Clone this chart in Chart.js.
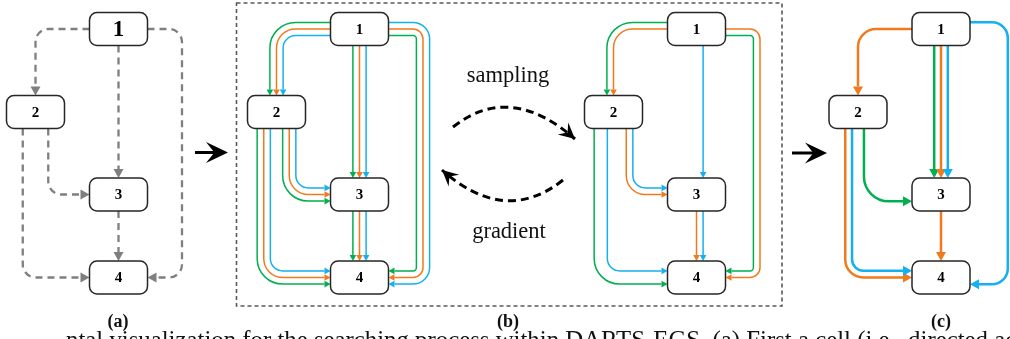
<!DOCTYPE html>
<html>
<head>
<meta charset="utf-8">
<script src="https://cdn.jsdelivr.net/npm/chart.js@4/dist/chart.umd.min.js"></script>
<style>
  html, body { margin: 0; padding: 0; background: #fff; overflow: hidden; }
</style>
</head>
<body>
<canvas id="diagram" width="1010" height="339"></canvas>
<script>
// ノード配置（各図で共通）
const nodeLabels = ["1", "2", "3", "4"];
const nodeDx = [0, -83, 0, 0];
const nodeY = [29, 112, 194.5, 277.5];

// 図の中心x: (a), (b)左, (b)右, (c)
const diagramX = [118.5, 359.5, 696.5, 941];
const loopGap = [34.5, 34.5, 34.5, 31];

// エッジ: 1-2, 1-3, 1-4, 2-3, 2-4, 3-4
const edgeList = [[0, 1], [0, 2], [0, 3], [1, 2], [1, 3], [2, 3]];
// g=green, o=orange, b=blue, k=gray(dashed)
const edgesA = ["k", "k", "k", "k", "k", "k"];
const edgesB1 = ["gob", "gob", "gob", "gob", "gob", "gob"];
const edgesB2 = ["go", "b", "go", "ob", "gb", "ob"];
const edgesC = ["o", "gob", "b", "g", "ob", "o"];
const diagramEdges = [edgesA, edgesB1, edgesB2, edgesC];

// テキスト
const panelLabels = ["(a)", "(b)", "(c)"];
const panelLabelX = [118, 508, 941];
const loopTexts = ["sampling", "gradient"];
const loopTextX = [508, 509];
const loopTextY = [76, 232];
const captionText = "ntal visualization for the searching process within DARTS-EGS. (a) First a cell (i.e., directed acyclic graph)";

// 矢印（曲線・パネル間）
const topArc = [[453, 127], [510, 82], [575, 139]];
const bottomArc = [[563, 180], [505, 226], [442, 170]];
const bigArrows = [[195, 228, 152.5], [792, 827, 153]];
const frameB = [236.5, 782, 3, 306];

const colorMap = { g: "#00b050", o: "#f07b1e", b: "#14b0f0", k: "#7f7f7f" };
const laneMap = { g: -1, o: 0, b: 1, k: 0 };
const styles = [
  { width: 2.3, dash: [7, 5], head: [9, 5], gap: 0, r: 13, loopR: 13 },
  { width: 1.5, dash: [], head: [6, 3.3], gap: 6.6, r: 19, loopR: 10 },
  { width: 1.5, dash: [], head: [6, 3.3], gap: 6.6, r: 19, loopR: 10 },
  { width: 2.5, dash: [], head: [9, 5], gap: 6.8, r: 18, loopR: 9 },
];
const nodeW = 58;
const nodeH = 33;

// エッジの中心線（データ座標）
function route(d, e) {
  const nx = (i) => diagramX[d] + nodeDx[i];
  const hw = nodeW / 2, hh = nodeH / 2;
  if (e === 0) return [[nx(0) - hw, nodeY[0]], [nx(1), nodeY[0]], [nx(1), nodeY[1] - hh]];
  if (e === 1) return [[nx(0), nodeY[0] + hh], [nx(2), nodeY[2] - hh]];
  if (e === 2) {
    const lx = nx(0) + hw + loopGap[d];
    return [[nx(0) + hw, nodeY[0]], [lx, nodeY[0]], [lx, nodeY[3]], [nx(3) + hw, nodeY[3]]];
  }
  if (e === 3) {
    const x3 = nx(1) + 12.75;
    return [[x3, nodeY[1] + hh], [x3, nodeY[2]], [nx(2) - hw, nodeY[2]]];
  }
  if (e === 4) {
    const x4 = nx(1) - 12.75;
    return [[x4, nodeY[1] + hh], [x4, nodeY[3]], [nx(3) - hw, nodeY[3]]];
  }
  return [[nx(2), nodeY[2] + hh], [nx(3), nodeY[3] - hh]];
}

// オフセット付きの角丸パスを描く
function drawEdge(ctx, pts, off, R, st, color) {
  const n = pts.length;
  const dirs = [];
  for (let i = 0; i < n - 1; i++) {
    const dx = pts[i + 1][0] - pts[i][0];
    const dy = pts[i + 1][1] - pts[i][1];
    const L = Math.hypot(dx, dy);
    dirs.push([dx / L, dy / L]);
  }
  const p = pts.map((q, i) => {
    let ox = 0, oy = 0;
    if (i > 0) { ox += dirs[i - 1][1]; oy -= dirs[i - 1][0]; }
    if (i < n - 1) { ox += dirs[i][1]; oy -= dirs[i][0]; }
    return [q[0] + off * ox, q[1] + off * oy];
  });
  const last = dirs[n - 2];
  const tip = p[n - 1];
  const base = [tip[0] - last[0] * st.head[0], tip[1] - last[1] * st.head[0]];

  ctx.strokeStyle = color;
  ctx.fillStyle = color;
  ctx.lineWidth = st.width;
  ctx.setLineDash(st.dash);
  ctx.beginPath();
  ctx.moveTo(p[0][0], p[0][1]);
  for (let i = 1; i < n - 1; i++) {
    const cr = dirs[i - 1][0] * dirs[i][1] - dirs[i - 1][1] * dirs[i][0];
    const r = R + off * cr;
    const nxt = i + 1 === n - 1 ? base : p[i + 1];
    ctx.arcTo(p[i][0], p[i][1], nxt[0], nxt[1], r);
  }
  ctx.lineTo(base[0], base[1]);
  ctx.stroke();
  ctx.setLineDash([]);

  const hw = st.head[1];
  ctx.beginPath();
  ctx.moveTo(tip[0], tip[1]);
  ctx.lineTo(base[0] - last[1] * hw, base[1] + last[0] * hw);
  ctx.lineTo(base[0] + last[1] * hw, base[1] - last[0] * hw);
  ctx.closePath();
  ctx.fill();
}

function roundRect(ctx, x, y, w, h, r) {
  ctx.beginPath();
  ctx.moveTo(x + r, y);
  ctx.arcTo(x + w, y, x + w, y + h, r);
  ctx.arcTo(x + w, y + h, x, y + h, r);
  ctx.arcTo(x, y + h, x, y, r);
  ctx.arcTo(x, y, x + w, y, r);
  ctx.closePath();
}

// 黒いステルス矢じり
function stealth(ctx, tx, ty, ux, uy, len, hw) {
  const bx = tx - ux * len, by = ty - uy * len;
  ctx.beginPath();
  ctx.moveTo(tx, ty);
  ctx.lineTo(bx - uy * hw, by + ux * hw);
  ctx.lineTo(tx - ux * len * 0.62, ty - uy * len * 0.62);
  ctx.lineTo(bx + uy * hw, by - ux * hw);
  ctx.closePath();
  ctx.fill();
}

const diagramPlugin = {
  id: "diagram",
  afterDatasetsDraw(chart) {
    const ctx = chart.ctx;
    const sx = chart.scales.x;
    const sy = chart.scales.y;
    const px = (v) => sx.getPixelForValue(v);
    const py = (v) => sy.getPixelForValue(v);
    ctx.save();
    ctx.lineCap = "butt";

    // (b) の点線枠
    ctx.strokeStyle = "#595959";
    ctx.lineWidth = 1.6;
    ctx.setLineDash([4, 3]);
    ctx.strokeRect(px(frameB[0]), py(frameB[2]), px(frameB[1]) - px(frameB[0]), py(frameB[3]) - py(frameB[2]));
    ctx.setLineDash([]);

    // エッジ
    diagramEdges.forEach((edges, d) => {
      const st = styles[d];
      edges.forEach((lanes, e) => {
        const pts = route(d, e).map((q) => [px(q[0]), py(q[1])]);
        const R = e === 2 ? st.loopR : st.r;
        for (const c of lanes) {
          drawEdge(ctx, pts, laneMap[c] * st.gap, R, st, colorMap[c]);
        }
      });
    });

    // ノード
    diagramEdges.forEach((edges, d) => {
      nodeLabels.forEach((lab, i) => {
        const cx = diagramX[d] + nodeDx[i];
        const x0 = px(cx - nodeW / 2), x1 = px(cx + nodeW / 2);
        const y0 = py(nodeY[i] - nodeH / 2), y1 = py(nodeY[i] + nodeH / 2);
        roundRect(ctx, x0, y0, x1 - x0, y1 - y0, 7.5);
        ctx.fillStyle = "#fff";
        ctx.fill();
        ctx.strokeStyle = "#262626";
        ctx.lineWidth = 1.5;
        ctx.stroke();
        ctx.fillStyle = "#000";
        const big = d === 0 && i === 0;
        ctx.font = "bold " + (big ? 23 : 15) + "px 'Liberation Serif', serif";
        ctx.textAlign = "center";
        ctx.textBaseline = "middle";
        ctx.fillText(lab, px(cx), py(nodeY[i]) + 1);
      });
    });

    // sampling / gradient の曲線矢印
    ctx.strokeStyle = "#000";
    ctx.fillStyle = "#000";
    ctx.lineWidth = 3;
    [topArc, bottomArc].forEach((arc) => {
      const a = arc.map((q) => [px(q[0]), py(q[1])]);
      ctx.setLineDash([8, 5]);
      ctx.beginPath();
      ctx.moveTo(a[0][0], a[0][1]);
      ctx.quadraticCurveTo(a[1][0], a[1][1], a[2][0], a[2][1]);
      ctx.stroke();
      ctx.setLineDash([]);
      const dx = a[2][0] - a[1][0], dy = a[2][1] - a[1][1];
      const L = Math.hypot(dx, dy);
      stealth(ctx, a[2][0], a[2][1], dx / L, dy / L, 16, 8);
    });

    // パネル間の矢印
    bigArrows.forEach((b) => {
      const x0 = px(b[0]), x1 = px(b[1]), yy = py(b[2]);
      ctx.lineWidth = 3;
      ctx.beginPath();
      ctx.moveTo(x0, yy);
      ctx.lineTo(x1 - 12, yy);
      ctx.stroke();
      stealth(ctx, x1, yy, 1, 0, 22, 10.5);
    });

    // テキスト
    ctx.fillStyle = "#111";
    ctx.textAlign = "center";
    ctx.textBaseline = "middle";
    ctx.font = "22.5px 'Liberation Serif', serif";
    loopTexts.forEach((t, i) => ctx.fillText(t, px(loopTextX[i]), py(loopTextY[i])));

    ctx.font = "bold 18px 'Liberation Serif', serif";
    panelLabels.forEach((t, i) => ctx.fillText(t, px(panelLabelX[i]), py(322)));

    ctx.font = "24.8px 'Liberation Serif', serif";
    ctx.textAlign = "left";
    ctx.textBaseline = "alphabetic";
    ctx.fillText(captionText, px(66), py(348));
    ctx.restore();
  },
};

// ノード中心を散布データとして渡す
const nodePoints = [];
diagramX.forEach((x0) => {
  nodeDx.forEach((dx, i) => nodePoints.push({ x: x0 + dx, y: nodeY[i] }));
});

const diagramChart = new Chart(document.getElementById("diagram"), {
  type: "scatter",
  data: { datasets: [{ data: nodePoints, pointRadius: 0 }] },
  options: {
    responsive: false,
    animation: false,
    devicePixelRatio: 1,
    events: [],
    layout: { padding: 0 },
    plugins: { legend: { display: false }, tooltip: { enabled: false } },
    scales: {
      x: { type: "linear", min: 0, max: 1010, display: false },
      y: { type: "linear", min: 0, max: 339, reverse: true, display: false },
    },
  },
  plugins: [diagramPlugin],
});
</script>
</body>
</html>
